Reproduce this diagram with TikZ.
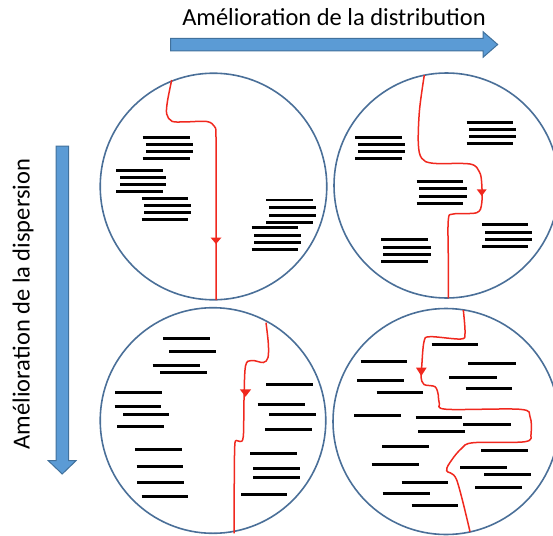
\documentclass[tikz,border=0pt]{standalone}
\usepackage{fontspec}
\setmainfont{Carlito}
\definecolor{ringc}{HTML}{4A6F98}
\definecolor{arrfill}{HTML}{5B9BD5}
\definecolor{arredge}{HTML}{41719C}
\definecolor{pathred}{HTML}{F0281E}
\begin{document}
\begin{tikzpicture}[x=1pt,y=-1pt,
  ring/.style={draw=ringc,line width=1.6pt},
  bar/.style={black,line width=3pt},
  redpath/.style={draw=pathred,line width=1.5pt},
  redhead/.style={fill=pathred,draw=none},
  blockarrow/.style={fill=arrfill,draw=arredge,line width=1pt},
  lbl/.style={font=\fontsize{24.5}{28}\selectfont,inner sep=0pt}]
\useasboundingbox (0,0) rectangle (553,535);
\begin{scope}
\clip (0,0) rectangle (553,535);
% circles
\draw[ring] (213.5,186.5) circle (113.3);
\draw[ring] (446.5,185.5) circle (112.5);
\draw[ring] (213,420.5) circle (112.8);
\draw[ring] (446,421.5) circle (113);

% bars circle 1
\foreach \a/\b/\y in {142.7/190/137.3,146/192.7/144.3,146/192.7/151.3,142.7/190/158.3,
  116/162.7/170,120/166/177.3,120/166/184.3,116/162.7/191.3,
  141.7/188.3/198,144.3/190.7/204.7,144.3/190.7/212,141.7/188.3/219.3,
  269.3/316/207.3,269.3/316/214.7,266/312.7/221.7,
  251.7/298.3/227.3,254.3/301/235,254.3/301/242,251.7/298.3/249}
  \draw[bar] (\a,{round(\y)+0.5}) -- (\b,{round(\y)+0.5});
\draw[black,line width=2pt] (266,200) -- (312.7,200);

% bars circle 2
\foreach \a/\b/\y in {355/402.3/137,358.3/405/144.3,358.3/405/151.3,355/402.3/158.3,
  466.7/512.7/122,469.3/516/129.3,469.3/516/136.3,466.7/512.7/143.3,
  416.7/463.3/181,419.3/466.7/188.3,419.3/466.7/195.7,416.7/463.3/202.7,
  482/528.3/224.3,485/531.7/231.7,485/531.7/238.7,482/528.3/245.7,
  381/427.7/239.3,383.3/430.7/246.7,383.3/430.7/253.7,381/427.7/260.7}
  \draw[bar] (\a,{round(\y)+0.5}) -- (\b,{round(\y)+0.5});

% bars circle 3
\foreach \a/\b/\y in {163.3/210/337.7,169.3/216/351.3,152.7/200/365.3,160/206.7/372,
  115.3/162/392.3,114.7/161.3/406,123.3/169.3/414.3,117/163.7/425.7,
  135/182.3/449.3,136.7/183.3/466.3,137.3/184/482.3,141.7/188.3/495.7,
  266/312.7/384,257.7/305/404.3,269.3/316/413.7,265/311.7/428.7,
  250/297.3/453.3,253.3/300/467.7,253.3/300/477,241/287.3/494}
  \draw[bar] (\a,{round(\y)+0.5}) -- (\b,{round(\y)+0.5});

% bars circle 4
\foreach \a/\b/\y in {431.7/478.3/344.3,360.7/407.3/361.3,468.3/515.7/363.3,357.3/404/380,
  449.3/496.7/376.7,465.7/512.3/388.3,376.7/423.3/392.3,354/401.3/414.7,
  415.7/462.3/417.3,463.3/510.7/424,418.3/465/430.7,382.3/429/446,
  481/527.7/450,371.7/419/464,460/506.7/466.7,484.3/531/473.7,
  401.7/448.3/482.3,475/521.7/487.3,382.7/430/493.3,411.7/458.3/505}
  \draw[bar] (\a,{round(\y)+0.5}) -- (\b,{round(\y)+0.5});

% red paths
\draw[redpath] plot[smooth,tension=0.55] coordinates {(171.7,80) (167.5,101) (166.7,114) (172,121.3) (185,121.9) (206.7,121.5) (214.5,126.5) (216,137) (216,200) (216,300)};
\fill[redhead] (216,244) -- (210.5,237.5) -- (221.5,237.5) -- cycle;

\draw[redpath] plot[smooth,tension=0.55] coordinates {(424.3,75) (419.5,110) (418.3,143.3) (421.7,158.3) (433.3,163.3) (470,164) (479.3,171.7) (481.7,183.3) (481.7,203.3) (476.7,212.7) (453.3,214) (448.3,220) (448.3,260) (448.3,298.3)};
\fill[redhead] (481.7,196) -- (476.7,189.3) -- (486.7,189.3) -- cycle;

\draw[redpath] plot[smooth,tension=0.55] coordinates {(266,322.7) (268.3,343.3) (268,357.5) (263.3,362.5) (251.7,360.5) (245.5,366) (244,400) (243.3,436.5) (240,441.5) (236.3,440.5) (234.7,447) (234.2,490) (234,533.3)};
\fill[redhead] (245.5,396.7) -- (239.8,389.3) -- (251.2,389.3) -- cycle;

\draw[redpath] plot[smooth,tension=0.55] coordinates {(463.3,310) (465,333.3) (460.7,339) (430,336.7) (424,341.7) (421.7,366.7) (421,377) (424,384.5) (435,386.7) (438.3,395) (439.3,403.3) (446.7,409.3) (520,409.3) (530,416.7) (531,433.3) (525,441.7) (473.3,442.7) (461.7,448.3) (451.7,460) (446.7,470.7) (456.7,480) (470,531.7)};
\fill[redhead] (421.3,376) -- (416,367.7) -- (426.6,367.7) -- cycle;
\end{scope}

% block arrows
\draw[blockarrow] (170.7,38.3) -- (483,38.3) -- (483,31.7) -- (497.7,44.5) -- (483,57.3) -- (483,50.8) -- (170.7,50.8) -- cycle;
\draw[blockarrow] (56,146) -- (68.5,146) -- (68.5,460.7) -- (76,460.7) -- (62.2,474) -- (48.3,460.7) -- (56,460.7) -- cycle;

% labels
\node[lbl] (th) at (334,17) {Amélioration de la distribution};
\node[lbl,rotate=90] (tv) at (23,304) {Amélioration de la dispersion};
\end{tikzpicture}
\end{document}
